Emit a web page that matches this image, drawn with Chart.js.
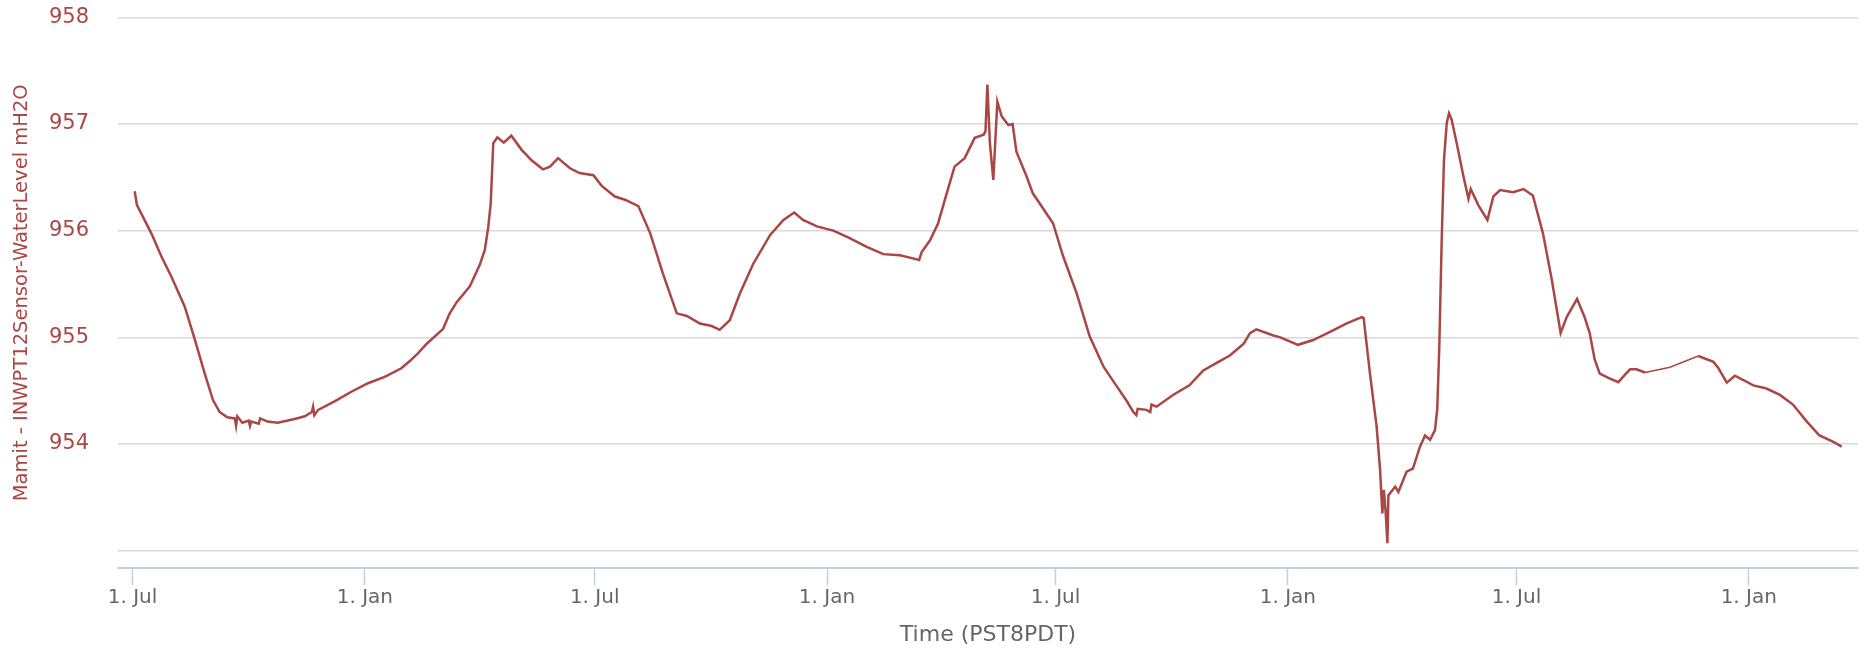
<!DOCTYPE html>
<html>
<head>
<meta charset="utf-8">
<script src="https://cdn.jsdelivr.net/npm/chart.js@4.4.1/dist/chart.umd.min.js"></script>
<style>
  html, body { margin: 0; padding: 0; background: #ffffff; }
  #wrap { width: 1868px; height: 658px; }
</style>
</head>
<body>
<div id="wrap"><canvas id="c" width="1868" height="658"></canvas></div>
<script>
// Days since the first "1. Jul" tick
const dayOffsets = [
  1.7, 3.5, 14.9, 22.8, 30.7, 41.3, 49.3, 57.2, 63.8, 69, 75, 81, 82, 83, 87, 92, 93, 94, 100, 101, 107, 115, 123, 130, 136.4,
  142, 143, 144, 147, 160, 173.3, 186.5, 199.7, 212.9, 219.8, 226, 233, 246, 251, 256.7, 267, 275, 279, 281.8, 283.7,
  285.7, 289, 294, 300, 308, 316, 325, 330.6, 337, 346.5, 354, 365, 371.6, 382, 390, 400.6, 410, 420, 431,
  439, 449.4, 458.7, 465, 473, 481, 491.6, 505, 515.5, 524, 531, 542, 555, 568, 581, 594.6, 607.8, 618, 623,
  625, 631.6, 638, 644.8, 651, 659, 667, 674, 675.5, 677, 679, 681.7, 684.9, 688.4, 693.6, 697, 700, 708,
  713, 721, 729, 737, 747.8, 758, 769, 779.5, 787, 792.6, 795, 796, 803, 806, 807, 811, 824, 837, 848, 858.6, 869, 880, 885,
  890, 903, 909, 923, 935, 948, 961.6, 973.5, 975, 980, 985.3, 988, 989.8, 991, 992.5, 993.8, 994.6, 1000,
  1002.5, 1009, 1014, 1019.6, 1023.6, 1027.6, 1031.5, 1033.3, 1034.9, 1036.8, 1038.6, 1040.8, 1042.6,
  1044.7, 1048.7, 1054, 1058, 1059.8, 1065.8, 1073, 1077.7, 1083, 1093.5, 1101.5, 1109, 1117, 1124, 1131,
  1135.8, 1144, 1150, 1154, 1158, 1162, 1168.8, 1176.7, 1182, 1186, 1191, 1197.8, 1217.6, 1240, 1252, 1256,
  1262.6, 1269, 1275.7, 1283.6, 1294, 1304.7, 1315, 1326, 1336, 1347, 1353.6
];
const waterLevel = [
  956.37, 956.24, 955.975, 955.76, 955.57, 955.29, 954.98, 954.66, 954.41, 954.30, 954.25, 954.24, 954.17, 954.26, 954.20, 954.22, 954.17, 954.21, 954.19, 954.24, 954.21, 954.20, 954.22, 954.24, 954.26,
  954.30, 954.35, 954.27, 954.32, 954.40, 954.49, 954.57, 954.63, 954.71, 954.78, 954.85, 954.94, 955.08, 955.22, 955.33, 955.475, 955.68, 955.82, 956.04, 956.26,
  956.82, 956.875, 956.825, 956.89, 956.76, 956.66, 956.575, 956.60, 956.68, 956.585, 956.54, 956.52, 956.42, 956.32, 956.29, 956.23, 955.975, 955.60, 955.225,
  955.20, 955.13, 955.106, 955.07, 955.16, 955.41, 955.69, 955.96, 956.10, 956.17, 956.10, 956.04, 956.00, 955.93, 955.85, 955.78, 955.77, 955.74, 955.725,
  955.80, 955.91, 956.07, 956.35, 956.60, 956.68, 956.87, 956.90, 956.93, 957.37, 956.82, 956.475, 957.21, 957.07, 956.99, 957.00, 956.74, 956.51,
  956.35, 956.21, 956.07, 955.76, 955.41, 955.01, 954.725, 954.54, 954.41, 954.30, 954.27, 954.33, 954.32, 954.30, 954.37, 954.35, 954.46, 954.55, 954.69, 954.76, 954.83, 954.94, 955.04,
  955.075, 955.02, 955.00, 954.93, 954.975, 955.05, 955.13, 955.19, 955.18, 954.66, 954.16, 953.76, 953.35, 953.57, 953.35, 953.07, 953.52, 953.60,
  953.55, 953.74, 953.77, 953.975, 954.08, 954.04, 954.13, 954.33, 954.91, 955.91, 956.66, 957.01, 957.10,
  957.04, 956.82, 956.51, 956.30, 956.39, 956.24, 956.10, 956.32, 956.38, 956.36, 956.39, 956.33, 955.975, 955.54, 955.04,
  955.19, 955.36, 955.19, 955.04, 954.79, 954.66, 954.62, 954.58, 954.65, 954.70, 954.70, 954.67, 954.72, 954.825, 954.77, 954.71,
  954.575, 954.64, 954.60, 954.55, 954.52, 954.46, 954.37, 954.21, 954.08, 954.02, 953.975
];
const xTickPositions = [0, 184, 366, 550, 731, 915, 1096, 1280];
const xTickLabels = ["1. Jul", "1. Jan", "1. Jul", "1. Jan", "1. Jul", "1. Jan", "1. Jul", "1. Jan"];
const yTickValues = [953, 954, 955, 956, 957, 958];
const yTickLabels = ["", "954", "955", "956", "957", "958"];

const seriesColor = '#AA4643';
const points = dayOffsets.map((d, i) => ({ x: d, y: waterLevel[i] }));

new Chart(document.getElementById('c'), {
  type: 'line',
  data: {
    datasets: [{
      data: points,
      borderColor: seriesColor,
      borderWidth: 2.5,
      pointRadius: 0,
      tension: 0,
      fill: false,
      segment: {
        borderWidth: ctx => (ctx.p1.parsed.x - ctx.p0.parsed.x > 18 ? 1.4 : 2.5)
      }
    }]
  },
  options: {
    responsive: false,
    animation: false,
    devicePixelRatio: 1,
    layout: { padding: { top: 17.3, right: 10, left: 0, bottom: 0 } },
    plugins: { legend: { display: false }, tooltip: { enabled: false } },
    scales: {
      x: {
        type: 'linear',
        min: -11.5,
        max: 1366.5,
        afterBuildTicks: s => { s.ticks = xTickPositions.map(v => ({ value: v })); },
        afterFit: s => { s.height = 658 - 568.3; },
        grid: {
          drawOnChartArea: false,
          drawTicks: true,
          tickLength: 17,
          tickColor: '#C0D0E0',
          tickWidth: 1.5
        },
        border: { display: true, color: '#C0D0E0', width: 2 },
        ticks: {
          autoSkip: false,
          maxRotation: 0,
          padding: 0,
          color: '#666666',
          font: { family: 'DejaVu Sans', size: 20, lineHeight: 1.2 },
          callback: (v, i) => xTickLabels[i]
        },
        title: {
          display: true,
          text: 'Time (PST8PDT)',
          color: '#666666',
          font: { family: 'DejaVu Sans', size: 22, lineHeight: 1.2 },
          padding: { top: 0, bottom: 10 }
        }
      },
      y: {
        type: 'linear',
        min: 952.835,
        max: 958,
        afterBuildTicks: s => { s.ticks = yTickValues.map(v => ({ value: v })); },
        afterFit: s => { s.width = 118; },
        grid: {
          color: '#D9D9D9',
          lineWidth: 1.5,
          drawTicks: true,
          tickLength: 29,
          tickColor: 'rgba(0,0,0,0)'
        },
        border: { display: false },
        ticks: {
          padding: 0,
          color: seriesColor,
          font: { family: 'DejaVu Sans', size: 21, lineHeight: 1.2 },
          callback: (v, i) => yTickLabels[i]
        },
        title: {
          display: true,
          text: 'Mamit - INWPT12Sensor-WaterLevel mH2O',
          color: seriesColor,
          font: { family: 'DejaVu Sans', size: 19.5, lineHeight: 1.2 },
          padding: { top: 10, bottom: 0 }
        }
      }
    }
  }
});
</script>
</body>
</html>
